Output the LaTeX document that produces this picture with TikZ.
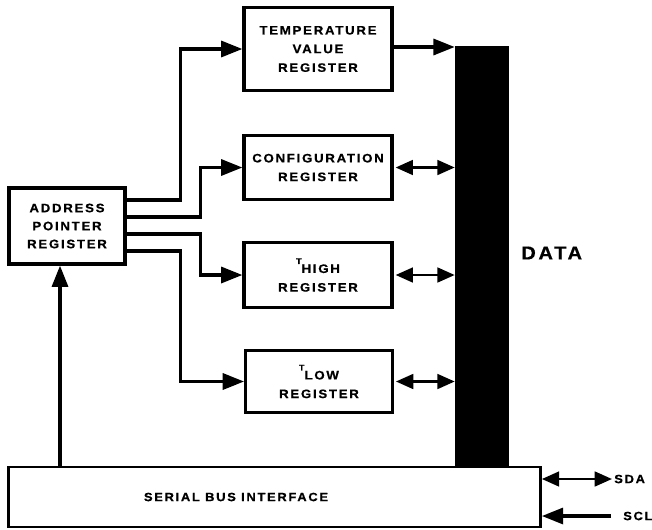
\documentclass[tikz,border=0pt]{standalone}
\usepackage{fontspec}
\setmainfont{Liberation Sans}[LetterSpace=14,FakeStretch=1.08,BoldFeatures={FakeBold=0.6}]
\usetikzlibrary{arrows.meta,calc}

\newcommand{\smallT}{\raisebox{6.7pt}{\fontsize{6.2}{7}\selectfont T}}

\begin{document}
\begin{tikzpicture}
[x=0.75pt,y=-0.75pt,
 reg/.style={draw,line width=2.4pt,minimum width=111pt,inner sep=0pt,align=center,
   font=\fontsize{9.2}{14}\selectfont\bfseries},
 sarrow/.style={line width=2.5pt,-{Triangle[length=16pt,width=12pt]}},
 darrow/.style={line width=2pt,{Triangle[length=13pt,width=11pt]}-{Triangle[length=13pt,width=11pt]}},
 lbl/.style={inner sep=0pt,font=\fontsize{9}{10}\selectfont\bfseries}]
\useasboundingbox (0,0) rectangle (652,529);

% registers
\node[reg,minimum height=62pt] (temp) at (318,49) {TEMPERATURE\\VALUE\\REGISTER};
\node[reg,minimum height=48pt] (conf) at (318,167.5) {CONFIGURATION\\REGISTER};
\node[reg,minimum height=49pt] (thigh) at (318,275) {\smallT HIGH\\REGISTER};
\node[reg,minimum height=47pt,minimum width=110pt] (tlow) at (319,381.5) {\smallT LOW\\REGISTER};
\node[reg,minimum height=57pt,minimum width=87pt,font=\fontsize{9.2}{13.5}\selectfont\bfseries] (addr) at (67,226) {ADDRESS\\POINTER\\REGISTER};

% bus
\node[fill=black,inner sep=0pt,minimum width=40.5pt,minimum height=315.75pt] (data) at (482,256.5) {};
\node[lbl,font=\fontsize{14}{16}\selectfont\bfseries,anchor=west] (datatxt) at (521,253) {DATA};

\node[draw,line width=2pt,inner sep=0pt,minimum width=399pt,minimum height=45pt] (sbi) at (274.5,497) {};
\node[lbl] (sbitxt) at (236,497) {SERIAL BUS INTERFACE};

% pointer to registers
\draw[sarrow] ($(addr.east)+(0,-26)$) -- ++(54,0) |- (temp.west);
\draw[sarrow] ($(addr.east)+(0,-9)$) -- ++(74,0) |- (conf.west);
\draw[sarrow] ($(addr.east)+(0,8)$) -- ++(74,0) |- (thigh.west);
\draw[sarrow] ($(addr.east)+(0,25)$) -- ++(54,0) |- (tlow.west);

% registers to data
\draw[sarrow] ($(temp.east)+(0,-2)$) -- ($(temp.east -| data.west)+(0,-2)$);
\draw[darrow] ($(conf.east)+(2,0)$) -- (conf.east -| data.west);
\draw[darrow] ($(thigh.east)+(2,0)$) -- (thigh.east -| data.west);
\draw[darrow] ($(tlow.east)+(2,0)$) -- (tlow.east -| data.west);

\draw[sarrow] ($(sbi.north -| addr.south)+(-7,0)$) -- ($(addr.south)+(-7,0)$);

% pins
\coordinate (sda) at (612,479);
\coordinate (scl) at (611,516);
\draw[darrow] (sbi.east |- sda) -- (sda);
\draw[sarrow] (scl) -- (sbi.east |- scl);
\node[lbl,anchor=west] (sdatxt) at (614,479) {SDA};
\node[lbl,anchor=west] (scltxt) at (623,516) {SCL};
\end{tikzpicture}
\end{document}
